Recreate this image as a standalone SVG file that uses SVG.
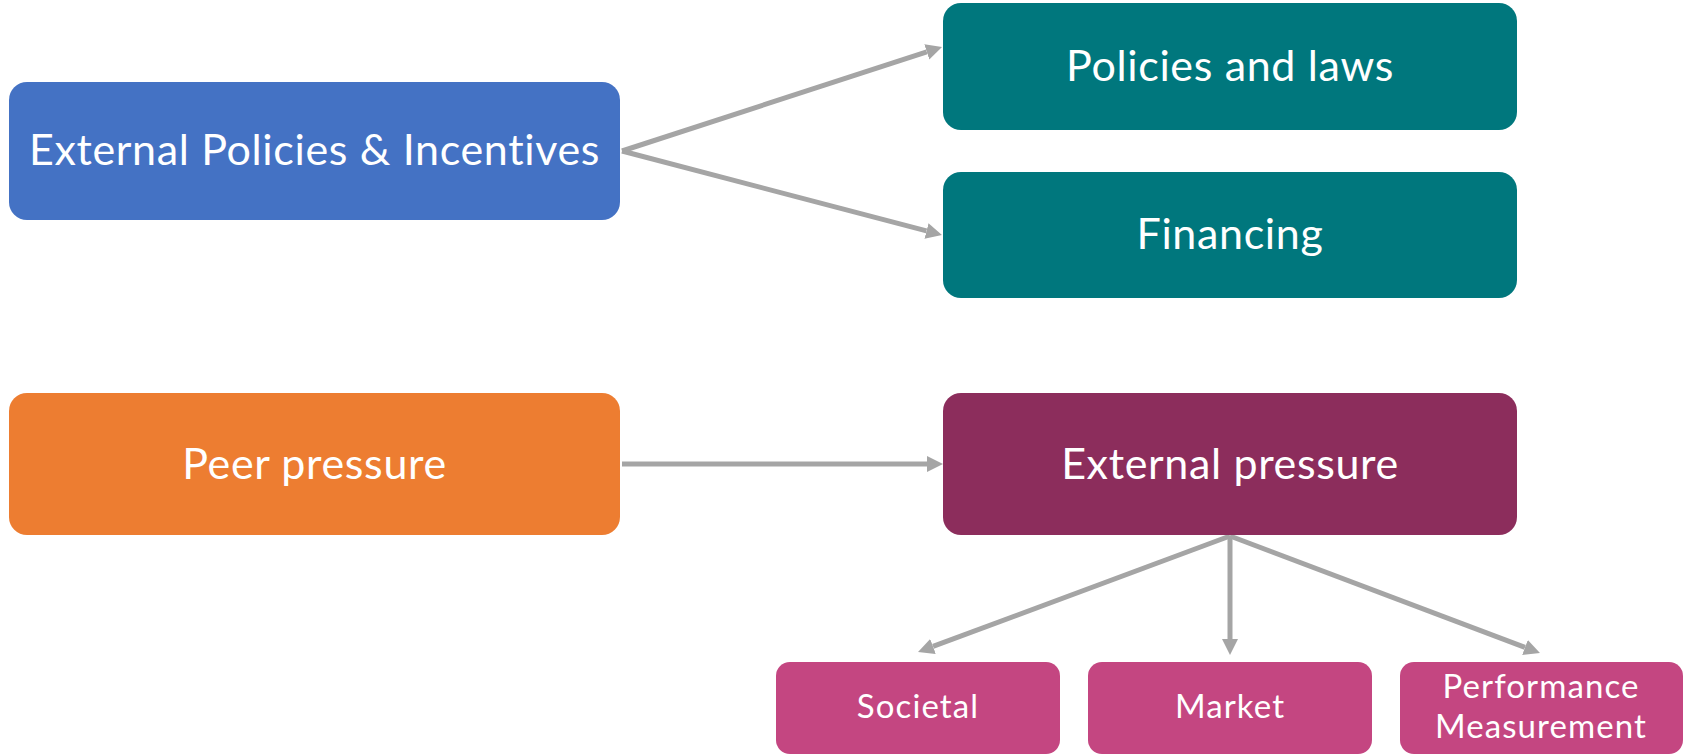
<svg xmlns="http://www.w3.org/2000/svg" width="1689" height="754" viewBox="0 0 1689 754">
<defs>
<style>
text{font-family:Lato,"Open Sans","Liberation Sans",sans-serif;fill:#fff;text-anchor:middle;font-variant-ligatures:none}
.big{font-size:43px;letter-spacing:0.65px}
.small{font-size:33px;letter-spacing:1.1px}
.conn line{stroke:#A5A5A5;stroke-width:5;marker-end:url(#ah)}
</style>
<marker id="ah" markerUnits="userSpaceOnUse" markerWidth="18" markerHeight="18" viewBox="0 -9 18 18" refX="0" refY="0" orient="auto">
<path d="M0,-8 L16,0 L0,8 z" fill="#A5A5A5"/>
</marker>
</defs>
<rect width="1689" height="754" fill="#fff"/>
<g id="connectors" class="conn">
<line x1="622" y1="151" x2="926.8" y2="51.9"/>
<line x1="622" y1="151" x2="926.5" y2="230.9"/>
<line x1="622" y1="464" x2="927" y2="464"/>
<line x1="1230" y1="536" x2="933" y2="646.4"/>
<line x1="1230" y1="536" x2="1230" y2="639"/>
<line x1="1230" y1="536" x2="1525" y2="647.4"/>
</g>
<g id="external-policies">
<rect x="9" y="82" width="611" height="138" rx="18" fill="#4472C4"/>
<text class="big" x="314.5" y="165">External Policies &amp; Incentives</text>
</g>
<g id="policies-laws">
<rect x="943" y="3" width="574" height="127" rx="18" fill="#00777D"/>
<text class="big" x="1230" y="81">Policies and laws</text>
</g>
<g id="financing">
<rect x="943" y="172" width="574" height="126" rx="18" fill="#00777D"/>
<text class="big" x="1230" y="249">Financing</text>
</g>
<g id="peer-pressure">
<rect x="9" y="393" width="611" height="142" rx="18" fill="#ED7D31"/>
<text class="big" x="314.5" y="479">Peer pressure</text>
</g>
<g id="external-pressure">
<rect x="943" y="393" width="574" height="142" rx="18" fill="#8C2D5C"/>
<text class="big" x="1230" y="479">External pressure</text>
</g>
<g id="societal">
<rect x="776" y="662" width="284" height="92" rx="14" fill="#C44681"/>
<text class="small" x="918" y="718">Societal</text>
</g>
<g id="market">
<rect x="1088" y="662" width="284" height="92" rx="14" fill="#C44681"/>
<text class="small" x="1230" y="718">Market</text>
</g>
<g id="performance">
<rect x="1400" y="662" width="283" height="92" rx="14" fill="#C44681"/>
<text class="small" x="1541" y="698">Performance</text>
<text class="small" x="1541" y="738">Measurement</text>
</g>
</svg>
